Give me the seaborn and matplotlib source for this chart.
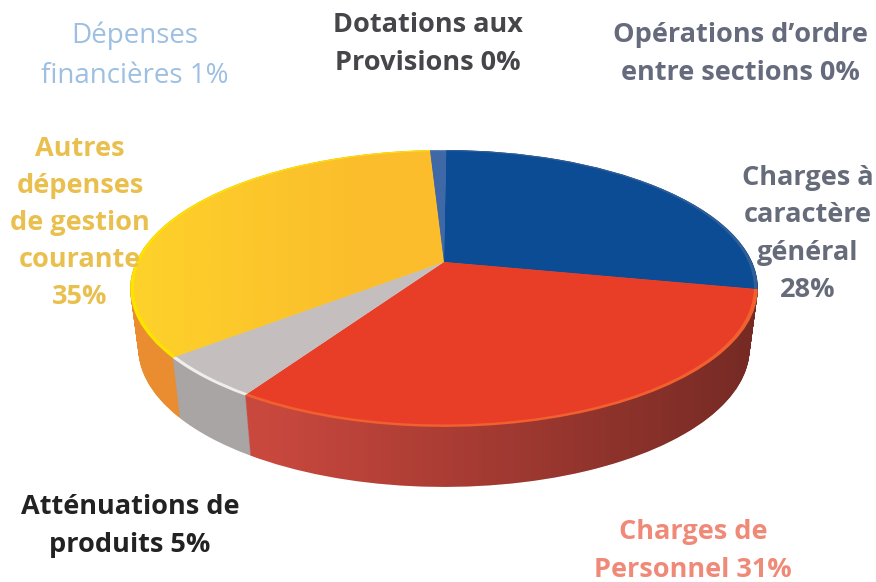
import numpy as np
import matplotlib
matplotlib.use('Agg')
import matplotlib.pyplot as plt
from matplotlib.path import Path
from matplotlib.transforms import Transform
import seaborn as sns

# pie data, clockwise from the top
labels = ['Charges à\ncaractère\ngénéral\n28%', 'Charges de\nPersonnel 31%', 'Atténuations de\nproduits 5%',
          'Autres\ndépenses\nde gestion\ncourante\n35%', 'Dépenses\nfinancières 1%',
          'Dotations aux\nProvisions 0%', 'Opérations d’ordre\nentre sections 0%']
values = [28, 31, 5, 35, 1, 0, 0]

top_colors = ['#0b4c94', '#e83e28', '#c4bfbe', '#fbbd2c', '#3f68a6', '#777777', '#555555']
edge_colors = ['#2f5f98', '#f2602f', '#f0eeea', '#fde300', '#5f82b5', '#777777', '#555555']
side_colors = ['#083a72', '#c9483e', '#aaa5a5', '#ea8c30', '#2f4f80', '#666666', '#444444']
text_colors = ['#666b7a', '#f08a78', '#222222', '#e9c04e', '#9dbfe2', '#45454a', '#656a7c']
text_pos = [(808, 234), (693, 551), (130, 526), (80, 223), (135, 56), (428, 44), (740, 54)]


class Squash(Transform):
    # unit pie -> image pixels, with perspective (t goes down to the bottom of the pie)
    input_dims = 2
    output_dims = 2

    def __init__(self, t=0.0):
        super().__init__()
        self.t = t

    def transform_non_affine(self, xy):
        xy = np.asarray(xy, dtype=float)
        w = 1 + 0.191 * xy[:, 1]
        x = 444 + (308 - 8 * self.t) * xy[:, 0] / w
        y = 262 + 60 * self.t - 133.4 * xy[:, 1] / w
        return np.column_stack([x, y])

    def transform_path_non_affine(self, path):
        return Path(self.transform_non_affine(path.vertices), path.codes)


sns.set_theme(style='white')
fig = plt.figure(figsize=(8.76, 5.82), dpi=100)
ax = fig.add_axes([0, 0, 1, 1])


def draw_pie(colors, t=0.0, radius=1.0):
    wedges, _ = ax.pie(values, colors=colors, startangle=89.5, counterclock=False, radius=radius)
    tr = Squash(t) + ax.transData
    for w in wedges:
        w.set_transform(tr)
        w.set_linewidth(0)
    return wedges


# side of the pie: stack of pies from bottom to top
steps = np.linspace(1, 0, 70)
for t in steps:
    draw_pie(side_colors, t)

# darken the rim towards the right
circle = Path.unit_circle()
rim = Path.make_compound_path(*[Squash(t).transform_path(circle) for t in steps])
shade = np.zeros((2, 200, 4))
shade[:, :, 3] = np.clip(np.linspace(-0.03, 0.42, 200), 0, 1)
im = ax.imshow(shade, extent=(230, 760, 500, 250), aspect='auto', zorder=3)
im.set_clip_path(rim, transform=ax.transData)

# top face, bright rim first
for w in draw_pie(edge_colors):
    w.set_zorder(4)
for w in draw_pie(top_colors, radius=0.988):
    w.set_zorder(5)

# lighter band on the yellow slice
band = np.zeros((2, 200, 4))
band[:, :, :3] = matplotlib.colors.to_rgb('#ffd92a')
band[:, :, 3] = np.clip(np.linspace(0.75, -0.1, 200), 0, 1)
im2 = ax.imshow(band, extent=(130, 400, 400, 140), aspect='auto', zorder=6)
yellow = draw_pie(top_colors, radius=0.988)[3]
yellow.set_visible(False)
im2.set_clip_path(yellow)

ax.set_xlim(0, 876)
ax.set_ylim(582, 0)
ax.set_aspect('auto')
ax.axis('off')

plt.rcParams['font.family'] = ['Open Sans', 'DejaVu Sans']
for i, lab in enumerate(labels):
    weight = 'normal' if i == 4 else 'bold'
    size = 20 if i == 4 else 19.5
    ax.text(text_pos[i][0], text_pos[i][1], lab, color=text_colors[i], fontsize=size,
            fontweight=weight, ha='center', va='center', linespacing=1.56, zorder=7)

fig.savefig('out.png', dpi=100)
